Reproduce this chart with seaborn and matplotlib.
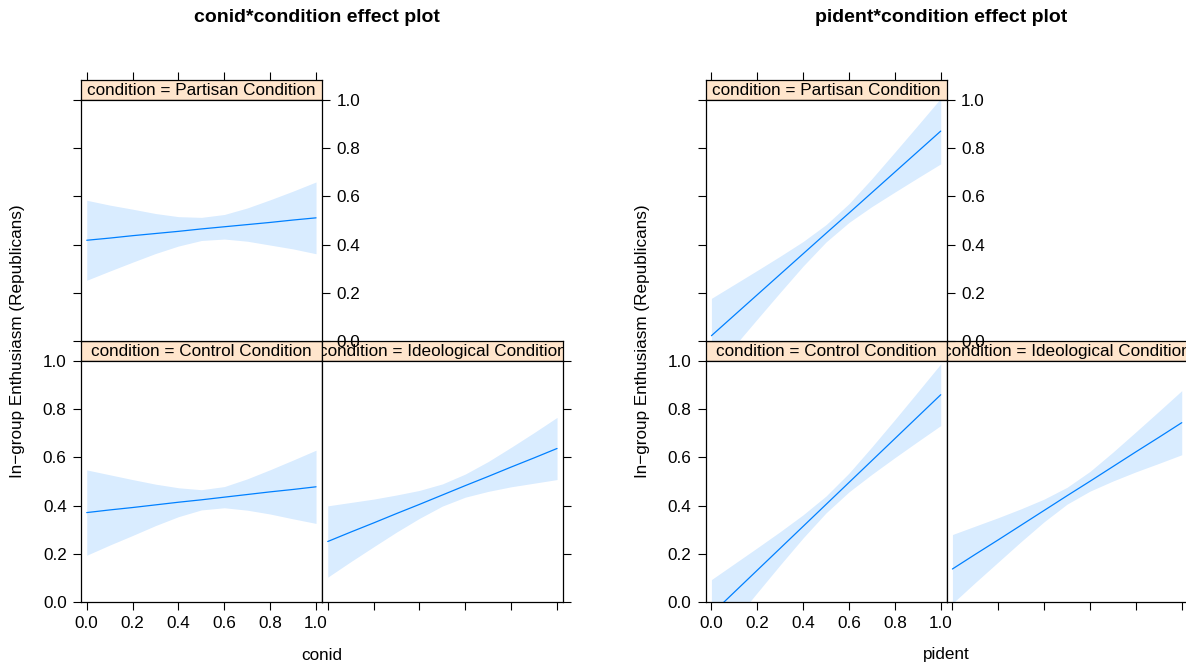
import numpy as np
import pandas as pd
import matplotlib
matplotlib.use("Agg")
import matplotlib.pyplot as plt
import seaborn as sns

sns.set_style("white")
plt.rcParams["font.family"] = ["Liberation Sans", "DejaVu Sans"]
plt.rcParams["text.color"] = "black"
plt.rcParams["axes.labelcolor"] = "black"
plt.rcParams["xtick.color"] = "black"
plt.rcParams["ytick.color"] = "black"
plt.rcParams["xtick.labelcolor"] = "black"
plt.rcParams["ytick.labelcolor"] = "black"

# ---------------- data ----------------
x_grid = [0.0, 0.1, 0.2, 0.3, 0.4, 0.5, 0.6, 0.7, 0.8, 0.9, 1.0]
tick_values = [0.0, 0.2, 0.4, 0.6, 0.8, 1.0]
tick_labels = ["0.0", "0.2", "0.4", "0.6", "0.8", "1.0"]
conditions = ["Partisan Condition", "Control Condition", "Ideological Condition"]

# conid effect plot
conid_partisan_fit = [0.418, 0.427, 0.437, 0.446, 0.455, 0.465, 0.474, 0.483, 0.492, 0.502, 0.511]
conid_partisan_lower = [0.252, 0.290, 0.327, 0.363, 0.394, 0.417, 0.423, 0.414, 0.398, 0.382, 0.362]
conid_partisan_upper = [0.584, 0.564, 0.547, 0.529, 0.516, 0.513, 0.525, 0.552, 0.586, 0.622, 0.660]

conid_control_fit = [0.371, 0.382, 0.392, 0.403, 0.414, 0.424, 0.435, 0.446, 0.457, 0.467, 0.478]
conid_control_lower = [0.194, 0.236, 0.276, 0.317, 0.354, 0.382, 0.391, 0.381, 0.365, 0.345, 0.326]
conid_control_upper = [0.548, 0.528, 0.508, 0.489, 0.474, 0.466, 0.479, 0.511, 0.549, 0.589, 0.630]

conid_ideological_fit = [0.251, 0.290, 0.328, 0.367, 0.405, 0.444, 0.483, 0.521, 0.560, 0.598, 0.637]
conid_ideological_lower = [0.103, 0.167, 0.229, 0.290, 0.347, 0.398, 0.435, 0.459, 0.478, 0.493, 0.508]
conid_ideological_upper = [0.399, 0.413, 0.427, 0.444, 0.463, 0.490, 0.531, 0.583, 0.642, 0.703, 0.766]

# pident effect plot
pident_partisan_fit = [0.022, 0.107, 0.192, 0.277, 0.362, 0.447, 0.531, 0.616, 0.701, 0.786, 0.871]
pident_partisan_lower = [-0.133, -0.021, 0.091, 0.202, 0.311, 0.411, 0.492, 0.558, 0.618, 0.677, 0.735]
pident_partisan_upper = [0.177, 0.235, 0.293, 0.352, 0.413, 0.483, 0.570, 0.674, 0.784, 0.895, 1.007]

pident_control_fit = [-0.050, 0.041, 0.132, 0.223, 0.314, 0.405, 0.496, 0.587, 0.678, 0.769, 0.860]
pident_control_lower = [-0.193, -0.077, 0.039, 0.154, 0.266, 0.370, 0.457, 0.530, 0.599, 0.666, 0.732]
pident_control_upper = [0.093, 0.159, 0.225, 0.292, 0.362, 0.440, 0.535, 0.644, 0.757, 0.872, 0.988]

pident_ideological_fit = [0.137, 0.198, 0.258, 0.319, 0.380, 0.441, 0.501, 0.562, 0.623, 0.683, 0.744]
pident_ideological_lower = [-0.006, 0.081, 0.166, 0.251, 0.333, 0.406, 0.460, 0.502, 0.540, 0.575, 0.611]
pident_ideological_upper = [0.280, 0.315, 0.350, 0.387, 0.427, 0.476, 0.542, 0.622, 0.706, 0.791, 0.877]

ylabel_text = "In\u2212group Enthusiasm (Republicans)"

plots = [
    {
        "title": "conid*condition effect plot",
        "xlabel": "conid",
        "series": {
            "Partisan Condition": (conid_partisan_fit, conid_partisan_lower, conid_partisan_upper),
            "Control Condition": (conid_control_fit, conid_control_lower, conid_control_upper),
            "Ideological Condition": (conid_ideological_fit, conid_ideological_lower, conid_ideological_upper),
        },
    },
    {
        "title": "pident*condition effect plot",
        "xlabel": "pident",
        "series": {
            "Partisan Condition": (pident_partisan_fit, pident_partisan_lower, pident_partisan_upper),
            "Control Condition": (pident_control_fit, pident_control_lower, pident_control_upper),
            "Ideological Condition": (pident_ideological_fit, pident_ideological_lower, pident_ideological_upper),
        },
    },
]

# ---------------- layout ----------------
W, H = 1186, 664
fig = plt.figure(figsize=(W / 100, H / 100), dpi=100)

LINE_COLOR = "#0080ff"
STRIP_COLOR = "#ffe5cc"
XLIM = (-0.025, 1.026)
YLIM = (0.0, 1.0)
TICK_LEN = 5.8
FS = 12.3


def rect(x0, y0, x1, y1):
    return [x0 / W, 1 - y1 / H, (x1 - x0) / W, (y1 - y0) / H]


def style_spines(ax):
    for s in ax.spines.values():
        s.set_visible(True)
        s.set_color("black")
        s.set_linewidth(0.9)


def make_strip(box, label):
    ax = fig.add_axes(rect(*box))
    ax.set_facecolor(STRIP_COLOR)
    ax.set_xlim(*XLIM)
    ax.set_ylim(0, 1)
    style_spines(ax)
    ax.set_xticks([])
    ax.set_yticks([])
    ax.text(0.5, 0.47, "condition = " + label, transform=ax.transAxes,
            ha="center", va="center", fontsize=FS, color="black", clip_on=True)
    ax.set_zorder(1)
    return ax


def make_panel(box, fit, lower, upper):
    ax = fig.add_axes(rect(*box))
    ax.set_facecolor("white")
    df = pd.DataFrame({"x": x_grid, "fit": fit})
    ax.fill_between(x_grid, lower, upper, color=LINE_COLOR, alpha=0.15, linewidth=0)
    sns.lineplot(data=df, x="x", y="fit", ax=ax, color=LINE_COLOR, linewidth=0.9, legend=False)
    ax.set_xlim(*XLIM)
    ax.set_ylim(*YLIM)
    ax.set_xlabel("")
    ax.set_ylabel("")
    ax.set_xticks(tick_values)
    ax.set_xticklabels(tick_labels)
    ax.set_yticks(tick_values)
    ax.set_yticklabels(tick_labels)
    style_spines(ax)
    ax.tick_params(axis="both", direction="out", length=TICK_LEN, width=0.8,
                   color="black", labelcolor="black", labelsize=FS, pad=4.5)
    ax.set_zorder(2)
    return ax


for i, p in enumerate(plots):
    ox = 624.7 * i
    s = p["series"]

    # top-left panel: Partisan
    st = make_strip((81 + ox, 79.5, 322 + ox, 100), "Partisan Condition")
    st.set_xticks(tick_values)
    st.tick_params(axis="x", top=True, bottom=False, labeltop=False, labelbottom=False,
                   direction="out", length=TICK_LEN, width=0.8, color="black")
    ax_t = make_panel((81 + ox, 100, 322 + ox, 341), *s["Partisan Condition"])
    ax_t.tick_params(axis="x", bottom=False, top=False, labelbottom=False, labeltop=False)
    ax_t.tick_params(axis="y", left=True, right=True, labelleft=False, labelright=True)
    ax_t.set_zorder(5)

    # bottom-left panel: Control
    make_strip((81 + ox, 341, 322 + ox, 361), "Control Condition")
    ax_bl = make_panel((81 + ox, 361, 322 + ox, 602), *s["Control Condition"])
    ax_bl.tick_params(axis="x", bottom=True, top=False, labelbottom=True, labeltop=False)
    ax_bl.tick_params(axis="y", left=True, right=False, labelleft=True, labelright=False)

    # bottom-right panel: Ideological
    make_strip((322 + ox, 341, 563 + ox, 361), "Ideological Condition")
    ax_br = make_panel((322 + ox, 361, 563 + ox, 602), *s["Ideological Condition"])
    ax_br.tick_params(axis="x", bottom=True, top=False, labelbottom=False, labeltop=False)
    ax_br.tick_params(axis="y", left=False, right=True, labelleft=False, labelright=False)

    # titles and axis labels
    fig.text((316.5 + ox) / W, 1 - 18 / H, p["title"], ha="center", va="center",
             fontsize=14, fontweight="bold", color="black")
    fig.text((322 + ox) / W, 1 - 655 / H, p["xlabel"], ha="center", va="center",
             fontsize=FS, color="black")
    fig.text((18 + ox) / W, 1 - 341 / H, ylabel_text, ha="center", va="center",
             rotation=90, fontsize=FS, color="black")

fig.savefig("out.png", dpi=100)
